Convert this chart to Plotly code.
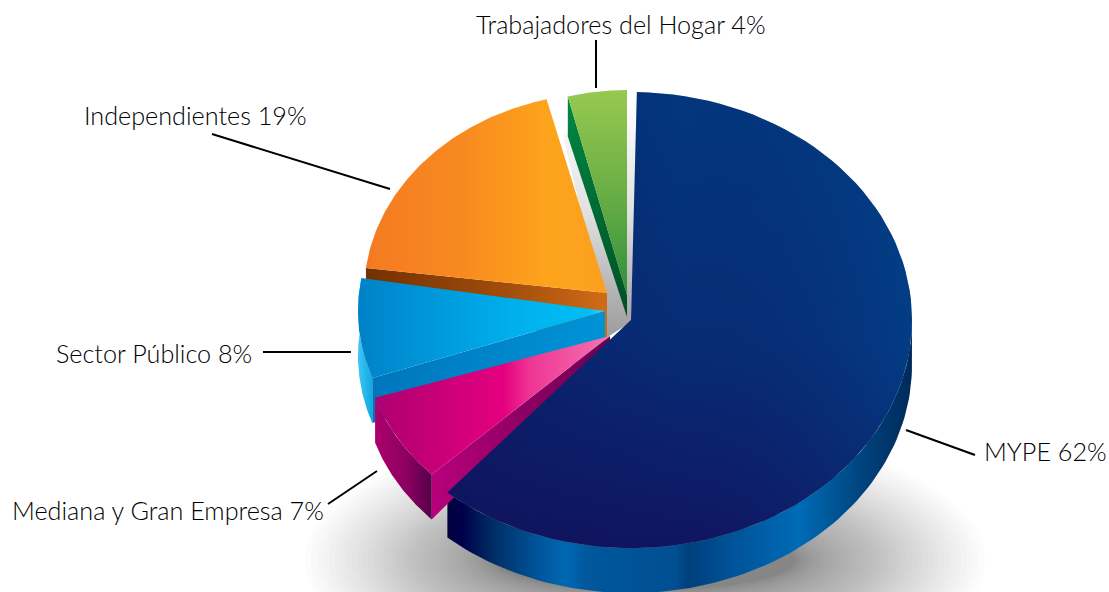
import numpy as np
import plotly.graph_objects as go

# --- data -----------------------------------------------------------------
categories = ["MYPE", "Mediana y Gran Empresa", "Sector Público", "Independientes", "Trabajadores del Hogar"]
values = [62, 7, 8, 19, 4]
labels = ["MYPE 62%", "Mediana y Gran Empresa 7%", "Sector Público 8%", "Independientes 19%", "Trabajadores del Hogar 4%"]

# --- drawing style: exploded-slice geometry, in px of the 1109x592 canvas ---
apex = [(631, 320), (610, 336), (605, 311), (607, 293), (627, 295)]
radii = [(281, 228), (247, 200), (247, 200), (243, 200), (238, 205)]
trim = [(1.2, -2.4), (3.0, 3.6), (2.0, 2.3), (0, 0), (0, 0)]
DEPTH = 45
label_pos = [(982, 451), (10, 510), (54, 353), (82, 115), (474, 24)]
leaders = [((906, 430), (975, 455)), ((328, 504), (377, 471)), ((263, 352), (351, 352)),
           ((212, 134), (390, 189)), ((596, 40), (596, 88))]

total = sum(values)
cum = np.cumsum([0] + values) / total * 360.0
ang = [(cum[i] + trim[i][0], cum[i + 1] + trim[i][1]) for i in range(len(values))]


def pt(i, th):
    th = np.radians(th)
    return apex[i][0] + radii[i][0] * np.sin(th), apex[i][1] - radii[i][1] * np.cos(th)


def arc(i, a, b, n=90):
    return pt(i, np.linspace(a, b, n))


def grad(kind, start, stop, stops):
    return dict(type=kind, start=start, stop=stop,
                colorscale=[[p, c] for p, c in stops])


fig = go.Figure()


def poly(xs, ys, g=None, color=None, name=""):
    kw = dict(fillgradient=g) if g else dict(fillcolor=color)
    fig.add_trace(go.Scatter(x=list(xs), y=list(ys), mode="lines", fill="toself",
                             line=dict(width=0, color="rgba(0,0,0,0)"),
                             hoverinfo="skip", showlegend=False, name=name, **kw))


def wedge(i, g):
    ax, ay = apex[i]
    x, y = arc(i, *ang[i])
    poly(np.r_[ax, x, ax], np.r_[ay, y, ay], g=g, name=categories[i])


def rim(i, a, b, g, d=DEPTH):
    x, y = arc(i, a, b)
    poly(np.r_[x, x[::-1], x[0]], np.r_[y, y[::-1] + d, y[0]], g=g)


def edge(i, th, g, d_out=DEPTH, d_in=DEPTH):
    ax, ay = apex[i]
    ox, oy = pt(i, th)
    poly([ox, ax, ax, ox, ox], [oy, ay, ay + d_in, oy + d_out, oy], g=g)


# soft drop shadow below the pie: layers get denser towards its middle
tt = np.linspace(0, 2 * np.pi, 120)
LAYERS = 50
for k in range(LAYERS):
    r = (1 - k / LAYERS) ** 1.6
    poly(645 + (150 + 190 * r) * np.cos(tt), 560 + (30 + 105 * r) * np.sin(tt),
         color="rgba(60,60,66,0.016)")

# silver core visible between the slices
poly([563, 603, 603, 631, 637, 628, 563], [135, 305, 340, 322, 90, 90, 135],
     g=grad("vertical", 100, 330, [(0, "#ffffff"), (0.5, "#e0e0e0"), (0.8, "#b8b8b8"), (1, "#a0a0a2")]))

# MYPE rim
rim(0, 90, ang[0][1], grad("horizontal", 448, 911, [
    (0, "#00003c"), (0.03, "#00004a"), (0.10, "#002f66"), (0.2, "#00569c"), (0.255, "#0068b3"),
    (0.30, "#00579c"), (0.49, "#004f92"), (0.52, "#003f7c"), (0.62, "#00549a"), (0.76, "#006bb6"),
    (0.85, "#00508f"), (0.93, "#003a70"), (1, "#002a5c")]))

# Trabajadores del Hogar
edge(4, ang[4][0], grad("vertical", 95, 317, [(0, "#008a45"), (0.5, "#006b33"), (1, "#004f26")]), 40, 22)
wedge(4, grad("vertical", 90, 295, [(0, "#96c950"), (0.5, "#6aae46"), (1, "#2f8f3c")]))

# Independientes
edge(3, ang[3][0], grad("horizontal", 365, 607, [(0, "#733000"), (0.6, "#a34e0c"), (1, "#d06c16")]))
wedge(3, grad("horizontal", 366, 607, [(0, "#f47a22"), (0.4, "#f88a20"), (0.75, "#fda41c"), (1, "#fba01f")]))

# Sector Público
rim(2, ang[2][0], ang[2][1], grad("horizontal", 352, 376, [(0, "#0078c0"), (0.3, "#3cc4f4"), (1, "#009fdc")]))
edge(2, ang[2][0], grad("horizontal", 375, 605, [(0, "#0076bd"), (1, "#0093d6")]))
wedge(2, grad("horizontal", 360, 606, [(0, "#0082c8"), (0.6, "#00aeec"), (0.93, "#00bff5"), (1, "#4cccf8")]))

# Mediana y Gran Empresa
edge(1, ang[1][0], grad("horizontal", 429, 610, [(0, "#ba007c"), (0.55, "#8c0062"), (1, "#6e0052")]), DEPTH, 7)
rim(1, ang[1][0], ang[1][1], grad("horizontal", 373, 429, [(0, "#b0006e"), (0.6, "#8c0062"), (1, "#5c004c")]))
wedge(1, grad("horizontal", 374, 610, [(0, "#ad0070"), (0.55, "#e4007f"), (0.66, "#ee3593"), (1, "#f675b0")]))

# MYPE top face: vertical ramp plus a left-to-right veil gives the diagonal shading
wedge(0, grad("vertical", 90, 548, [(0, "#003c82"), (0.55, "#06307a"), (1, "#101560")]))
x0, y0 = arc(0, *ang[0])
poly(np.r_[apex[0][0], x0, apex[0][0]], np.r_[apex[0][1], y0, apex[0][1]],
     g=grad("horizontal", 450, 911, [(0, "rgba(16,16,90,0.55)"), (0.5, "rgba(16,16,90,0.12)"),
                                     (1, "rgba(0,75,145,0.45)")]))

# leader lines
for (a, b) in leaders:
    fig.add_trace(go.Scatter(x=[a[0], b[0]], y=[a[1], b[1]], mode="lines",
                             line=dict(color="#000000", width=2), hoverinfo="skip", showlegend=False))

annotations = [dict(x=p[0], y=p[1], text=t, xref="x", yref="y", xanchor="left", yanchor="middle",
                    showarrow=False, align="left",
                    font=dict(family="Lato, sans-serif", size=25.2, weight=300, color="#000000"))
               for p, t in zip(label_pos, labels)]

fig.update_layout(
    width=1109, height=592, margin=dict(l=0, r=0, t=0, b=0),
    paper_bgcolor="white", plot_bgcolor="white", showlegend=False,
    xaxis=dict(range=[0, 1109], visible=False, fixedrange=True),
    yaxis=dict(range=[592, 0], visible=False, fixedrange=True),
    annotations=annotations,
)
fig.write_html("out.html", config=dict(displayModeBar=False),
               post_script="document.body.style.margin='0';document.body.style.overflow='hidden';")
